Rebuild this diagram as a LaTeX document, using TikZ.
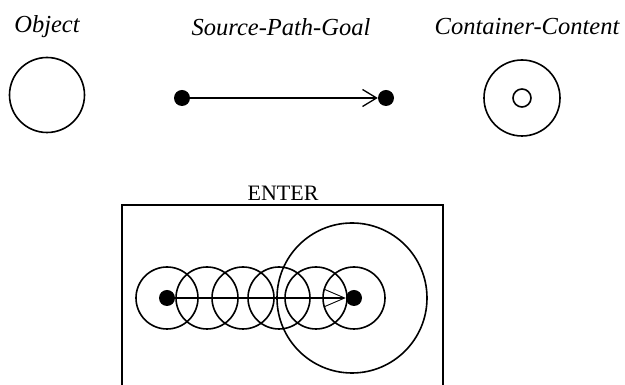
\documentclass[tikz,border=0pt]{standalone}
\usepackage{fontspec}
\setmainfont{Liberation Serif}
\usetikzlibrary{arrows.meta}
\begin{document}
\begin{tikzpicture}[x=1pt,y=1pt,
  ln/.style={line width=1.6pt},
  ring/.style={draw,circle,ln,inner sep=0pt},
  dot/.style={circle,fill=black,inner sep=0pt,minimum size=16pt},
  lab/.style={font=\fontsize{24.5}{28}\selectfont\itshape,inner sep=0pt},
  barb/.style={-{Straight Barb[length=14pt,width=17pt,line width=1.3pt]},line width=1.6pt}
]
\useasboundingbox (0,0) rectangle (625,385);
% top row
\node[lab] (lobj) at (47,358) {Object};
\node[lab] (lspg) at (281,358) {Source-Path-Goal};
\node[lab] (lcc) at (527,358) {Container-Content};
\node[ring,minimum size=75pt] (obj) at (47,290) {};
\node[dot] (s1) at (182,287) {};
\node[dot] (g1) at (386,287) {};
\draw[barb] (s1.center) -- (g1.west);
\node[ring,minimum size=76pt] (cont) at (522,287) {};
\node[ring,minimum size=18pt] (inner) at (522,287) {};
% ENTER
\node[font=\fontsize{22}{26}\selectfont,inner sep=0pt] (lent) at (283,192) {ENTER};
\coordinate (bl) at (122,-2);
\coordinate (tl) at (122,180);
\coordinate (tr) at (443,180);
\coordinate (br) at (443,-2);
\draw[line width=1.4pt] (bl) -- (tl) -- (tr) -- (br);
\node[ring,minimum size=150pt] (big) at (352,87) {};
\foreach \i/\x in {1/167,2/207,3/243,4/279,5/316,6/354}{
  \node[ring,minimum size=62pt] (c\i) at (\x,87) {};
}
\node[dot] (s2) at (167,87) {};
\node[dot] (g2) at (354,87) {};
\draw[-{Straight Barb[length=21pt,width=18pt,line width=0.9pt]},line width=1.6pt] (s2.center) -- (g2.west);
\end{tikzpicture}
\end{document}
